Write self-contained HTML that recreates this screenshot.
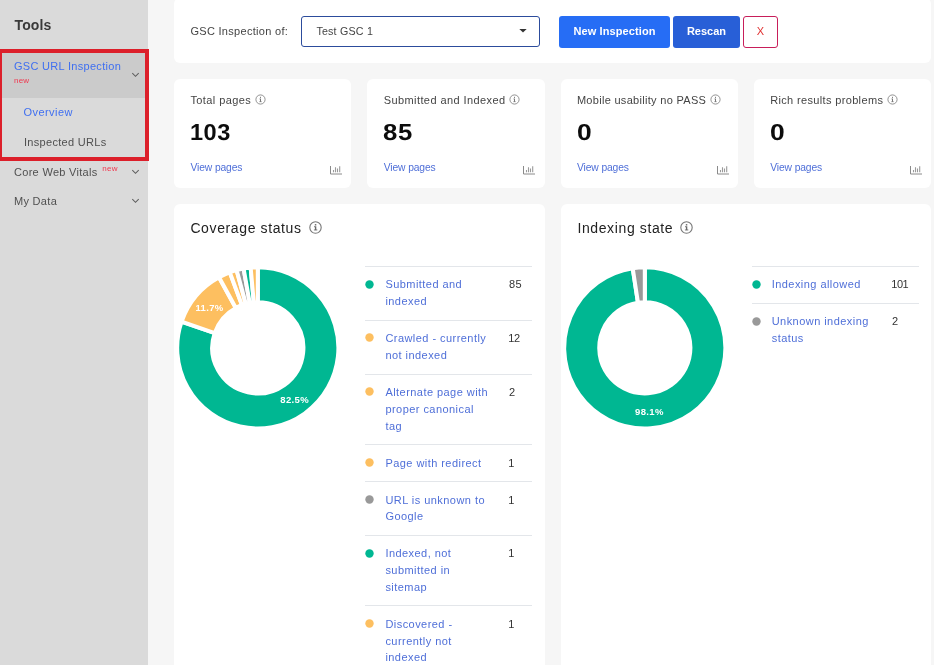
<!DOCTYPE html>
<html><head><meta charset="utf-8"><title>GSC URL Inspection</title>
<style>
*{box-sizing:border-box;margin:0;padding:0}
html,body{width:934px;height:665px;overflow:hidden;background:#f6f6f6;font-family:"Liberation Sans",sans-serif;color:#333}
.abs{position:absolute}
#side{position:absolute;left:0;top:0;width:148px;height:665px;background:#dadada}
#side .sel{position:absolute;left:0;top:49px;width:148px;height:49px;background:#cbcbcb}
#side .it{position:absolute;left:14px;font-size:11px;color:#505050;white-space:nowrap;line-height:14px;letter-spacing:.3px}
#side .blue{color:#3f6ff0}
#side .new{color:#f0384f;font-size:8px;letter-spacing:.2px}
.chev{position:absolute;left:131px}
#redbox{position:absolute;left:-2px;top:49px;width:151px;height:111.5px;border:4px solid #dc1f2a}
.card{position:absolute;background:#fff;border-radius:6px}
.stat{top:79px;width:177.25px;height:108.6px}
.stat .lbl{position:absolute;left:16.4px;top:13.5px;font-size:11px;color:#444;white-space:nowrap;line-height:14px}
.stat .info{position:absolute;top:15.1px;line-height:0}
.stat .num{position:absolute;left:16px;top:40.1px;font-size:22px;font-weight:bold;color:#0c0c0c;line-height:26px;transform-origin:0 0}
.stat .vp{position:absolute;left:16.5px;top:83.2px;font-size:10.3px;color:#4f6fd8;line-height:12px;letter-spacing:-.12px}
.stat .bars{position:absolute;left:156px;top:86.5px}
.h{position:absolute;font-size:14px;color:#222;letter-spacing:.62px;line-height:18px;white-space:nowrap}
.legend{position:absolute}
.row{position:relative;border-top:1px solid #e3e6ea;padding:9.4px 0 9.8px var(--pl);font-size:11px;line-height:16.8px}
.row .dot{position:absolute;left:0.2px;top:12.6px;width:9px;height:9px}
.row .t{display:block;color:#4f6fd8;letter-spacing:.45px;white-space:nowrap}
.row .n{position:absolute;top:9.4px;color:#333;letter-spacing:.3px}
.btn{position:absolute;top:16px;height:32px;border-radius:3px;color:#fff;font-weight:bold;font-size:11px;line-height:31px;text-align:center;white-space:nowrap}
.pct{font-family:"Liberation Sans",sans-serif;font-size:9.5px;font-weight:bold;fill:#fff;text-anchor:middle;letter-spacing:.35px}
</style></head><body>
<div id="side">
<div class="it" style="top:17px;font-size:14px;font-weight:bold;color:#3a3a3a;letter-spacing:.15px;line-height:16px;left:14.5px">Tools</div>
<div class="sel"></div>
<div class="it blue" style="top:59px">GSC URL Inspection</div>
<div class="it new" style="top:75.5px;line-height:10px">new</div>
<svg class="chev" style="top:72px" width="9" height="6" viewBox="0 0 9 6"><path d="M1.3 1.2L4.5 4.3L7.7 1.2" fill="none" stroke="#5e5e5e" stroke-width="1.05"/></svg>
<div class="it blue" style="left:23.6px;top:105px;letter-spacing:.42px">Overview</div>
<div class="it" style="left:24px;top:135px">Inspected URLs</div>
<div class="it" style="top:165px">Core Web Vitals <span class="new" style="position:relative;top:-5px;left:1.3px;letter-spacing:.3px">new</span></div>
<svg class="chev" style="top:169px" width="9" height="6" viewBox="0 0 9 6"><path d="M1.3 1.2L4.5 4.3L7.7 1.2" fill="none" stroke="#5e5e5e" stroke-width="1.05"/></svg>
<div class="it" style="top:194px">My Data</div>
<svg class="chev" style="top:198px" width="9" height="6" viewBox="0 0 9 6"><path d="M1.3 1.2L4.5 4.3L7.7 1.2" fill="none" stroke="#5e5e5e" stroke-width="1.05"/></svg>
</div>
<div id="redbox"></div>

<div class="card" style="left:174px;top:-2px;width:757px;height:65px"></div>
<div class="abs" style="left:190.4px;top:24px;font-size:11px;line-height:14px;color:#444;white-space:nowrap;letter-spacing:.3px">GSC Inspection of:</div>
<div class="abs" style="left:301px;top:16px;width:239px;height:31px;border:1px solid #2c4c9c;border-radius:3px;background:#fff"></div>
<div class="abs" style="left:316.4px;top:24px;font-size:10.7px;line-height:14px;color:#444;white-space:nowrap;letter-spacing:.2px">Test GSC 1</div>
<svg class="abs" style="left:518.6px;top:29px" width="8" height="4" viewBox="0 0 8 4"><path d="M0.3 0H7.7L4 3.6Z" fill="#333"/></svg>
<div class="btn" style="left:559px;width:111px;background:#266df5;letter-spacing:.1px">New Inspection</div>
<div class="btn" style="left:673px;width:67px;background:#285fd7">Rescan</div>
<div class="btn" style="left:743px;width:35px;background:#fff;border:1px solid #c81e5a;color:#e03131;font-weight:normal;line-height:29px">X</div>

<div class="card stat" style="left:174.0px">
<div class="lbl" style="letter-spacing:0.42px">Total pages</div>
<div class="info" style="left:80.90px"><svg width="11" height="11" viewBox="0 0 11 11"><circle cx="5.5" cy="5.5" r="4.6" fill="none" stroke="#808080" stroke-width="0.85"/><rect x="5" y="4.6" width="1" height="3.3" fill="#777"/><rect x="4.4" y="4.6" width="0.8" height="0.7" fill="#777"/><rect x="4.3" y="7.4" width="2.4" height="0.7" fill="#777"/><rect x="5" y="2.8" width="1" height="1.1" fill="#777"/></svg></div>
<div class="num" style="letter-spacing:0.5px;transform:scale(1.07,1.05) rotate(0.03deg)">103</div>
<div class="vp">View pages</div>
<svg class="bars" width="12" height="9" viewBox="0 0 12 9"><path d="M0.5 0V8H12" fill="none" stroke="#8a8a8a" stroke-width="1"/><path d="M3.5 4V6.2M5.5 1.2V6.2M7.5 2.5V6.2M9.7 0.3V6.2" stroke="#9a9a9a" stroke-width="1.1" fill="none"/></svg>
</div>
<div class="card stat" style="left:367.25px">
<div class="lbl" style="letter-spacing:0.42px">Submitted and Indexed</div>
<div class="info" style="left:141.85px"><svg width="11" height="11" viewBox="0 0 11 11"><circle cx="5.5" cy="5.5" r="4.6" fill="none" stroke="#808080" stroke-width="0.85"/><rect x="5" y="4.6" width="1" height="3.3" fill="#777"/><rect x="4.4" y="4.6" width="0.8" height="0.7" fill="#777"/><rect x="4.3" y="7.4" width="2.4" height="0.7" fill="#777"/><rect x="5" y="2.8" width="1" height="1.1" fill="#777"/></svg></div>
<div class="num" style="letter-spacing:0.5px;transform:scale(1.17,1.05) rotate(0.03deg)">85</div>
<div class="vp">View pages</div>
<svg class="bars" width="12" height="9" viewBox="0 0 12 9"><path d="M0.5 0V8H12" fill="none" stroke="#8a8a8a" stroke-width="1"/><path d="M3.5 4V6.2M5.5 1.2V6.2M7.5 2.5V6.2M9.7 0.3V6.2" stroke="#9a9a9a" stroke-width="1.1" fill="none"/></svg>
</div>
<div class="card stat" style="left:560.5px">
<div class="lbl" style="letter-spacing:0.3px">Mobile usability no PASS</div>
<div class="info" style="left:149.20px"><svg width="11" height="11" viewBox="0 0 11 11"><circle cx="5.5" cy="5.5" r="4.6" fill="none" stroke="#808080" stroke-width="0.85"/><rect x="5" y="4.6" width="1" height="3.3" fill="#777"/><rect x="4.4" y="4.6" width="0.8" height="0.7" fill="#777"/><rect x="4.3" y="7.4" width="2.4" height="0.7" fill="#777"/><rect x="5" y="2.8" width="1" height="1.1" fill="#777"/></svg></div>
<div class="num" style="letter-spacing:0px;transform:scale(1.2,1.05) rotate(0.03deg)">0</div>
<div class="vp">View pages</div>
<svg class="bars" width="12" height="9" viewBox="0 0 12 9"><path d="M0.5 0V8H12" fill="none" stroke="#8a8a8a" stroke-width="1"/><path d="M3.5 4V6.2M5.5 1.2V6.2M7.5 2.5V6.2M9.7 0.3V6.2" stroke="#9a9a9a" stroke-width="1.1" fill="none"/></svg>
</div>
<div class="card stat" style="left:753.75px">
<div class="lbl" style="letter-spacing:0.35px">Rich results problems</div>
<div class="info" style="left:132.95px"><svg width="11" height="11" viewBox="0 0 11 11"><circle cx="5.5" cy="5.5" r="4.6" fill="none" stroke="#808080" stroke-width="0.85"/><rect x="5" y="4.6" width="1" height="3.3" fill="#777"/><rect x="4.4" y="4.6" width="0.8" height="0.7" fill="#777"/><rect x="4.3" y="7.4" width="2.4" height="0.7" fill="#777"/><rect x="5" y="2.8" width="1" height="1.1" fill="#777"/></svg></div>
<div class="num" style="letter-spacing:0px;transform:scale(1.2,1.05) rotate(0.03deg)">0</div>
<div class="vp">View pages</div>
<svg class="bars" width="12" height="9" viewBox="0 0 12 9"><path d="M0.5 0V8H12" fill="none" stroke="#8a8a8a" stroke-width="1"/><path d="M3.5 4V6.2M5.5 1.2V6.2M7.5 2.5V6.2M9.7 0.3V6.2" stroke="#9a9a9a" stroke-width="1.1" fill="none"/></svg>
</div>

<div class="card" style="left:174px;top:204px;width:370.5px;height:480px"></div>
<div class="card" style="left:560.5px;top:204px;width:370.5px;height:480px"></div>
<div class="h" style="left:190.4px;top:219px">Coverage status</div>
<div class="abs" style="left:309px;top:221.3px;line-height:0"><svg width="13" height="13" viewBox="0 0 13 13"><circle cx="6.5" cy="6.5" r="5.7" fill="none" stroke="#777" stroke-width="1.1"/><rect x="5.8" y="3.1" width="1.5" height="1.4" fill="#6a6a6a"/><rect x="5.9" y="5.3" width="1.4" height="3.8" fill="#6a6a6a"/><rect x="5.0" y="5.3" width="1.2" height="0.9" fill="#6a6a6a"/><rect x="4.9" y="8.5" width="3.4" height="0.9" fill="#6a6a6a"/></svg></div>
<div class="h" style="left:577.4px;top:219px">Indexing state</div>
<div class="abs" style="left:680.4px;top:221.3px;line-height:0"><svg width="13" height="13" viewBox="0 0 13 13"><circle cx="6.5" cy="6.5" r="5.7" fill="none" stroke="#777" stroke-width="1.1"/><rect x="5.8" y="3.1" width="1.5" height="1.4" fill="#6a6a6a"/><rect x="5.9" y="5.3" width="1.4" height="3.8" fill="#6a6a6a"/><rect x="5.0" y="5.3" width="1.2" height="0.9" fill="#6a6a6a"/><rect x="4.9" y="8.5" width="3.4" height="0.9" fill="#6a6a6a"/></svg></div>

<svg class="abs" style="left:0;top:0" width="934" height="665" viewBox="0 0 934 665">
<path d="M257.80 267.30A80.6 80.6 0 1 1 181.58 321.70L214.68 333.08A45.6 45.6 0 1 0 257.80 302.30Z" fill="#00b792" stroke="#fff" stroke-width="4"/>
<path d="M181.58 321.70A80.6 80.6 0 0 1 219.00 277.25L235.85 307.93A45.6 45.6 0 0 0 214.68 333.08Z" fill="#fdbf60" stroke="#fff" stroke-width="4"/>
<path d="M219.00 277.25A80.6 80.6 0 0 1 229.81 272.32L241.97 305.14A45.6 45.6 0 0 0 235.85 307.93Z" fill="#fdbf60" stroke="#fff" stroke-width="4"/>
<path d="M229.81 272.32A80.6 80.6 0 0 1 236.61 270.13L245.81 303.90A45.6 45.6 0 0 0 241.97 305.14Z" fill="#fdbf60" stroke="#fff" stroke-width="4"/>
<path d="M236.61 270.13A80.6 80.6 0 0 1 243.58 268.56L249.76 303.01A45.6 45.6 0 0 0 245.81 303.90Z" fill="#999999" stroke="#fff" stroke-width="4"/>
<path d="M243.58 268.56A80.6 80.6 0 0 1 250.66 267.62L253.76 302.48A45.6 45.6 0 0 0 249.76 303.01Z" fill="#00b792" stroke="#fff" stroke-width="4"/>
<path d="M250.66 267.62A80.6 80.6 0 0 1 257.80 267.30L257.80 302.30A45.6 45.6 0 0 0 253.76 302.48Z" fill="#fdbf60" stroke="#fff" stroke-width="4"/>
<path d="M644.80 267.30A80.6 80.6 0 1 1 632.71 268.21L637.96 302.82A45.6 45.6 0 1 0 644.80 302.30Z" fill="#00b792" stroke="#fff" stroke-width="4"/>
<path d="M632.71 268.21A80.6 80.6 0 0 1 644.80 267.30L644.80 302.30A45.6 45.6 0 0 0 637.96 302.82Z" fill="#999999" stroke="#fff" stroke-width="4"/>
<text class="pct" x="294.65" y="402.9">82.5%</text>
<text class="pct" x="209.5" y="310.9">11.7%</text>
<text class="pct" x="649.4" y="414.9">98.1%</text>
</svg>

<div class="legend" style="left:365px;top:266px;width:167px;--pl:20.4px">
<div class="row"><svg class="dot" viewBox="0 0 9 9"><circle cx="4.5" cy="4.5" r="4.2" fill="#00b792"/></svg><span class="t">Submitted and<br>indexed</span><span class="n" style="left:144px">85</span></div>
<div class="row"><svg class="dot" viewBox="0 0 9 9"><circle cx="4.5" cy="4.5" r="4.2" fill="#fdbf60"/></svg><span class="t">Crawled - currently<br>not indexed</span><span class="n" style="left:143.2px"><span style="letter-spacing:-.4px">12</span></span></div>
<div class="row"><svg class="dot" viewBox="0 0 9 9"><circle cx="4.5" cy="4.5" r="4.2" fill="#fdbf60"/></svg><span class="t">Alternate page with<br>proper canonical<br>tag</span><span class="n" style="left:144px">2</span></div>
<div class="row"><svg class="dot" viewBox="0 0 9 9"><circle cx="4.5" cy="4.5" r="4.2" fill="#fdbf60"/></svg><span class="t">Page with redirect</span><span class="n" style="left:143.2px">1</span></div>
<div class="row"><svg class="dot" viewBox="0 0 9 9"><circle cx="4.5" cy="4.5" r="4.2" fill="#999999"/></svg><span class="t">URL is unknown to<br>Google</span><span class="n" style="left:143.2px">1</span></div>
<div class="row"><svg class="dot" viewBox="0 0 9 9"><circle cx="4.5" cy="4.5" r="4.2" fill="#00b792"/></svg><span class="t">Indexed, not<br>submitted in<br>sitemap</span><span class="n" style="left:143.2px">1</span></div>
<div class="row"><svg class="dot" viewBox="0 0 9 9"><circle cx="4.5" cy="4.5" r="4.2" fill="#fdbf60"/></svg><span class="t">Discovered -<br>currently not<br>indexed</span><span class="n" style="left:143.2px">1</span></div>
</div>
<div class="legend" style="left:752px;top:266px;width:166.8px;--pl:19.7px">
<div class="row"><svg class="dot" viewBox="0 0 9 9"><circle cx="4.5" cy="4.5" r="4.2" fill="#00b792"/></svg><span class="t">Indexing allowed</span><span class="n" style="left:139.2px"><span style="letter-spacing:-.4px">101</span></span></div>
<div class="row"><svg class="dot" viewBox="0 0 9 9"><circle cx="4.5" cy="4.5" r="4.2" fill="#999999"/></svg><span class="t">Unknown indexing<br>status</span><span class="n" style="left:140px">2</span></div>
</div>
</body></html>
